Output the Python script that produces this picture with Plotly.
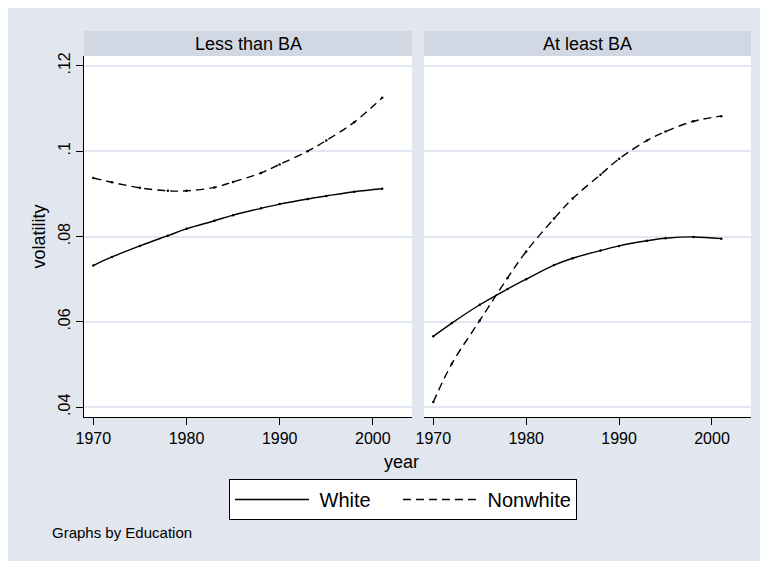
"""Volatility by year, race and education (Stata-style two-panel chart)."""
import plotly.graph_objects as go
from plotly.subplots import make_subplots

BG, STRIP, GRID, INK = "#E1E6EF", "#D2D8E3", "#E1E6F0", "#000000"
FONT = dict(family="Liberation Sans, Arial, sans-serif", color=INK)
NB = "\u00a0"

PANELS = ["Less than BA", "At least BA"]
YEARS = [1970, 1972, 1975, 1978, 1980, 1983, 1985, 1988, 1990, 1993, 1995, 1998, 2001]
WHITE_LESS = [.0732, .0752, .0778, .0802, .0818, .0837, .0850, .0866, .0876, .0888, .0895, .0905, .0912]
NONWHITE_LESS = [.0937, .0927, .0914, .0907, .0907, .0915, .0928, .0949, .0969, .1000, .1025, .1068, .1125]
WHITE_BA = [.0566, .0597, .0640, .0677, .0700, .0733, .0749, .0767, .0778, .0790, .0796, .0799, .0795]
NONWHITE_BA = [.0412, .0502, .0603, .0703, .0765, .0842, .0889, .0945, .0982, .1025, .1046, .1070, .1082]
Y_TICKS = [0.04, 0.06, 0.08, 0.10, 0.12]
Y_LABELS = [".04", ".06", ".08", ".1", ".12"]
X_TICKS = [1970, 1980, 1990, 2000]

# pixel layout of the figure (page body adds an 8px offset)
W, H = 768, 561
L, R, T, B = 76, 743, 48, 409
PW, PH = R - L, B - T
DASH = "8px,5px"


def px_x(x):
    return (x - L) / PW


def px_y(y):
    return (B - y) / PH


fig = make_subplots(rows=1, cols=2)
fig.update_xaxes(domain=[0, px_x(404)], row=1, col=1)
fig.update_xaxes(domain=[px_x(416), 1], row=1, col=2)

series = [(WHITE_LESS, NONWHITE_LESS), (WHITE_BA, NONWHITE_BA)]
for col, (white, nonwhite) in enumerate(series, start=1):
    fig.add_trace(go.Scatter(x=YEARS, y=white, name="White", mode="lines+markers",
                             line=dict(color=INK, width=1.4, shape="spline"),
                             marker=dict(size=2.5, color=INK), showlegend=False), 1, col)
    fig.add_trace(go.Scatter(x=YEARS, y=nonwhite, name="Nonwhite", mode="lines+markers",
                             line=dict(color=INK, width=1.4, shape="spline", dash=DASH),
                             marker=dict(size=2.5, color=INK), showlegend=False), 1, col)

# legend keys without the point dots; nbsp padding mimics Stata's key spacing
fig.add_trace(go.Scatter(x=[None], y=[None], name=NB + "White" + NB * 4, mode="lines",
                         line=dict(color=INK, width=1.4)), 1, 1)
fig.add_trace(go.Scatter(x=[None], y=[None], name=NB + "Nonwhite", mode="lines",
                         line=dict(color=INK, width=1.4, dash=DASH)), 1, 1)

fig.update_xaxes(range=[1969.0, 2004.2], tickvals=X_TICKS, ticks="outside", ticklen=7,
                 tickcolor=INK, showline=True, linecolor=INK, linewidth=1,
                 showgrid=False, zeroline=False, tickfont=dict(size=16))
fig.update_yaxes(range=[0.0377, 0.1223], tickvals=Y_TICKS, ticktext=Y_LABELS,
                 gridcolor=GRID, gridwidth=1.5, zeroline=False)
fig.update_yaxes(ticks="outside", ticklen=7, tickcolor=INK, showline=True, linecolor=INK,
                 tickangle=-90, tickfont=dict(size=16), row=1, col=1)
fig.update_yaxes(showticklabels=False, row=1, col=2)

# strip headers
for i, (x0, x1) in enumerate([(76, 404), (416, 743)]):
    fig.add_shape(type="rect", xref="paper", yref="paper", x0=px_x(x0), x1=px_x(x1),
                  y0=1, y1=px_y(23), fillcolor=STRIP, line_width=0)
    fig.add_annotation(text=PANELS[i], xref="paper", yref="paper", x=px_x((x0 + x1) / 2),
                       y=px_y(35.5), xanchor="center", yanchor="middle", showarrow=False,
                       font=dict(size=18))

fig.add_annotation(text="volatility", xref="paper", yref="paper", x=px_x(30), y=0.5,
                   xanchor="center", yanchor="middle", textangle=-90, showarrow=False,
                   font=dict(size=18))
fig.add_annotation(text="year", xref="paper", yref="paper", x=px_x(393), y=px_y(454),
                   xanchor="center", yanchor="middle", showarrow=False, font=dict(size=18))
fig.add_annotation(text="Graphs by Education", xref="paper", yref="paper", x=px_x(42),
                   y=px_y(524), xanchor="left", yanchor="middle", showarrow=False,
                   font=dict(size=15))

fig.update_layout(width=W, height=H, font=FONT, paper_bgcolor=BG, plot_bgcolor="white",
                  margin=dict(l=L, r=W - R, t=T, b=H - B),
                  legend=dict(orientation="h", x=px_x(395), xanchor="center", y=px_y(471),
                              yanchor="top", bgcolor="white", bordercolor=INK, borderwidth=1,
                              font=dict(size=20), itemwidth=74))

fig.write_html("out.html")
